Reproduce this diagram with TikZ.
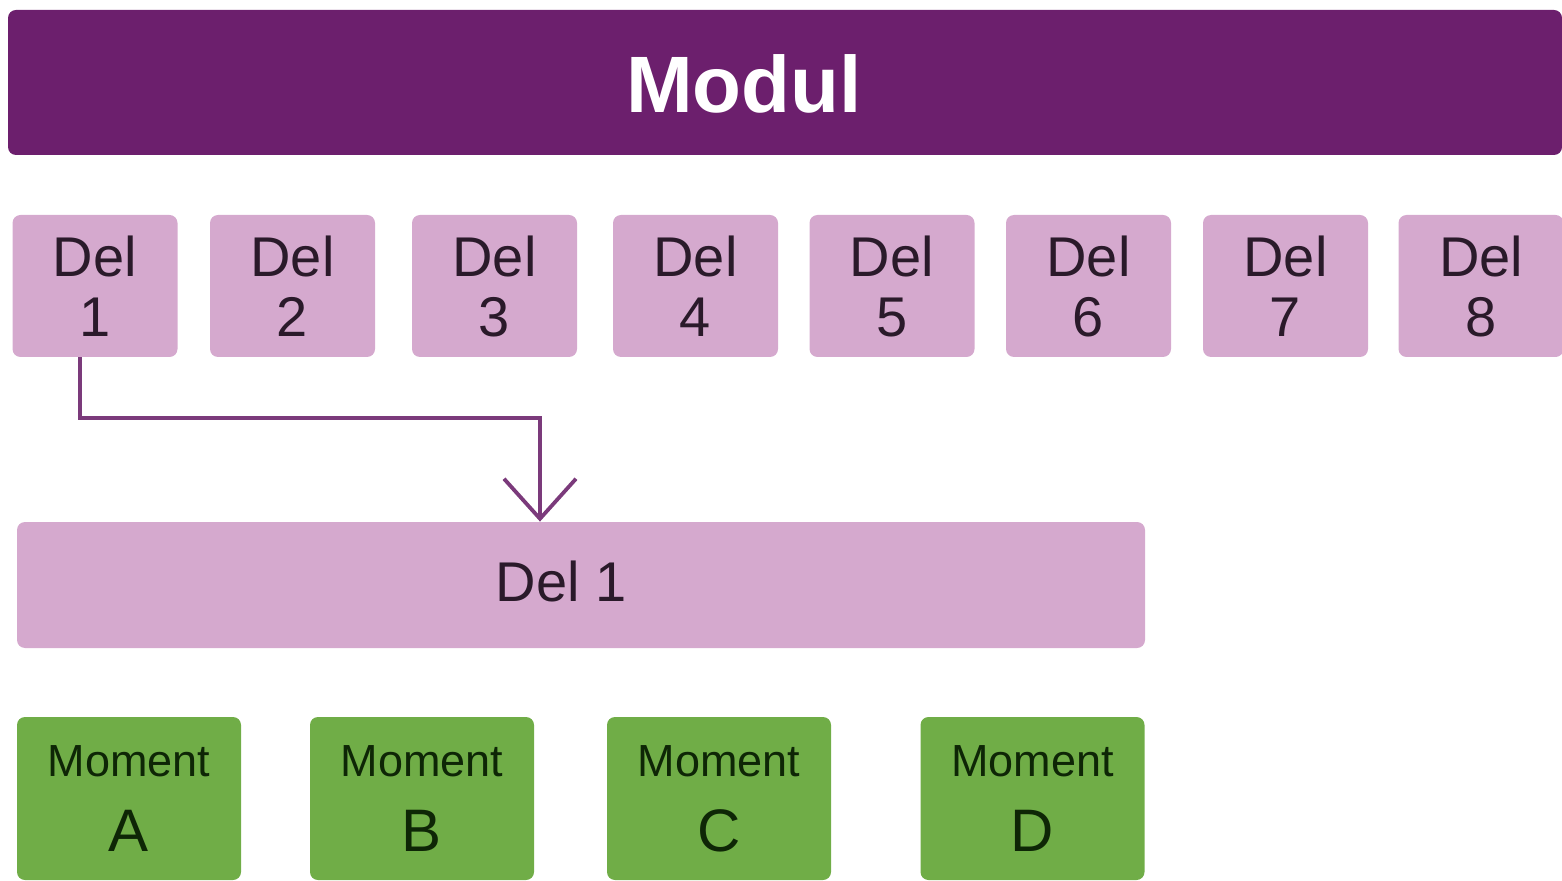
\documentclass[tikz,border=0pt]{standalone}
\usepackage{fontspec}
\setmainfont{Liberation Sans}
\usetikzlibrary{arrows.meta}
\definecolor{modulpurple}{HTML}{6C1F6D}
\definecolor{delpink}{HTML}{D5A9CE}
\definecolor{momgreen}{HTML}{70AD47}
\definecolor{deltext}{HTML}{2A1A2A}
\definecolor{momtext}{HTML}{0E2606}
\definecolor{arrowpurple}{HTML}{7B3A7B}
\newcommand{\momlabel}[1]{{\fontsize{22.5pt}{37.5pt}\selectfont Moment}\\{\fontsize{30pt}{37.5pt}\selectfont #1}}
\begin{document}
\begin{tikzpicture}[x=0.5pt,y=-0.5pt,
  box/.style={rounded corners=4pt,inner sep=0pt,minimum width=#1},
  delbox/.style={box=82.5pt,fill=delpink,minimum height=71pt,text=deltext,
    font=\fontsize{28pt}{30pt}\selectfont,align=center},
  mombox/.style={box=112pt,fill=momgreen,minimum height=81.5pt,text=momtext,align=center,
    font=\fontsize{22.5pt}{37.5pt}\selectfont},
  conn/.style={draw=arrowpurple,line width=1.7pt,-{Straight Barb[length=20pt,width=36pt,line width=1.9pt]}}]
\useasboundingbox (0,0) rectangle (1562,881);
% Modul bar
\node[box=777pt,minimum height=72.5pt,fill=modulpurple] (modul) at (785,82.5) {};
\node[text=white,font=\fontsize{40pt}{40pt}\selectfont\bfseries] (modultext) at (744,84) {Modul};
% Del boxes
\node[delbox] (d1) at (95,286) {Del\\1};
\node[delbox] (d2) at (292.5,286) {Del\\2};
\node[delbox] (d3) at (494.5,286) {Del\\3};
\node[delbox] (d4) at (695.5,286) {Del\\4};
\node[delbox] (d5) at (892,286) {Del\\5};
\node[delbox] (d6) at (1088.5,286) {Del\\6};
\node[delbox] (d7) at (1285.5,286) {Del\\7};
\node[delbox] (d8) at (1481,286) {Del\\8};
% Wide Del 1
\node[box=564pt,minimum height=63pt,fill=delpink] (big) at (581,585) {};
\node[text=deltext,font=\fontsize{28pt}{30pt}\selectfont] (bigtext) at (561,581) {Del 1};
% connector
\coordinate (turn) at (540,418);
\draw[conn] ([xshift=-7.5pt]d1.south) |- (turn) -- (turn |- big.north);
% Moment boxes
\node[mombox] (ma) at (129,798.5) {\momlabel{A}};
\node[mombox] (mb) at (422,798.5) {\momlabel{B}};
\node[mombox] (mc) at (719,798.5) {\momlabel{C}};
\node[mombox] (md) at (1032.5,798.5) {\momlabel{D}};
\end{tikzpicture}
\end{document}
